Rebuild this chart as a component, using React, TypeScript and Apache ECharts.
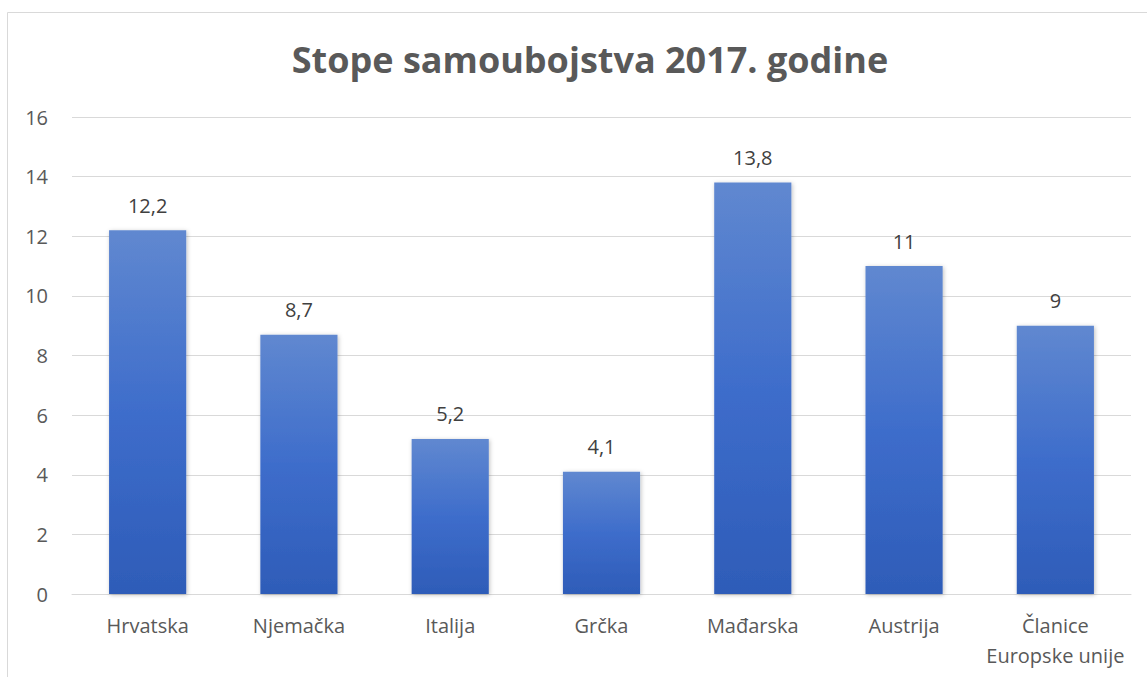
import React, { useEffect, useRef } from "react";
import * as echarts from "echarts";

const categories = ["Hrvatska", "Njemačka", "Italija", "Grčka", "Mađarska", "Austrija", "Članice\nEuropske unije"];
const values = [12.2, 8.7, 5.2, 4.1, 13.8, 11, 9];
const yTicks = [0, 2, 4, 6, 8, 10, 12, 14, 16];
const titleText = "Stope samoubojstva 2017. godine";

export default function App() {
  const ref = useRef<HTMLDivElement>(null);
  useEffect(() => {
    if (!ref.current) return;
    const chart = echarts.init(ref.current, null, { renderer: "svg" });
    const font = "'Open Sans', 'Noto Sans', sans-serif";
    chart.setOption({
      animation: false,
      backgroundColor: "#ffffff",
      graphic: [
        {
          type: "rect",
          shape: { x: 7.5, y: 12.5, width: 1200, height: 700 },
          style: { fill: "none", stroke: "#d9d9d9", lineWidth: 1 },
          silent: true,
        },
      ],
      title: {
        text: titleText,
        left: 585,
        top: 36,
        textAlign: "center",
        textStyle: { fontFamily: font, fontSize: 36, fontWeight: "bold", color: "#595959" },
      },
      grid: { left: 72, right: 16, top: 117, bottom: 83, containLabel: false },
      xAxis: {
        type: "category",
        data: categories,
        axisLine: { show: true, lineStyle: { color: "#d9d9d9", width: 1 } },
        axisTick: { show: false },
        axisLabel: {
          color: "#595959",
          fontFamily: font,
          fontSize: 20,
          margin: 16,
          lineHeight: 30,
          interval: 0,
        },
      },
      yAxis: {
        type: "value",
        min: 0,
        max: 16,
        interval: 2,
        axisLine: { show: false },
        axisTick: { show: false },
        splitLine: { lineStyle: { color: "#d9d9d9", width: 1 } },
        axisLabel: {
          color: "#595959",
          fontFamily: font,
          fontSize: 20,
          margin: 24,
          formatter: (v: number) => (yTicks.includes(v) ? String(v) : ""),
        },
      },
      series: [
        {
          type: "bar",
          data: values,
          barWidth: "51%",
          itemStyle: {
            color: new echarts.graphic.LinearGradient(0, 0, 0, 1, [
              { offset: 0, color: "#6088d0" },
              { offset: 0.5, color: "#3e6dcb" },
              { offset: 1, color: "#2e5cb8" },
            ]),
            shadowBlur: 4,
            shadowColor: "rgba(0,0,0,0.25)",
            shadowOffsetX: 1,
            shadowOffsetY: 1,
          },
          label: {
            show: true,
            position: "top",
            distance: 15,
            color: "#404040",
            fontFamily: font,
            fontSize: 20,
            formatter: (p: any) => String(p.value).replace(".", ","),
          },
        },
      ],
    });
    return () => chart.dispose();
  }, []);
  return (
    <div
      ref={ref}
      style={{ position: "fixed", left: 0, top: 0, width: 1147, height: 677 }}
    />
  );
}
